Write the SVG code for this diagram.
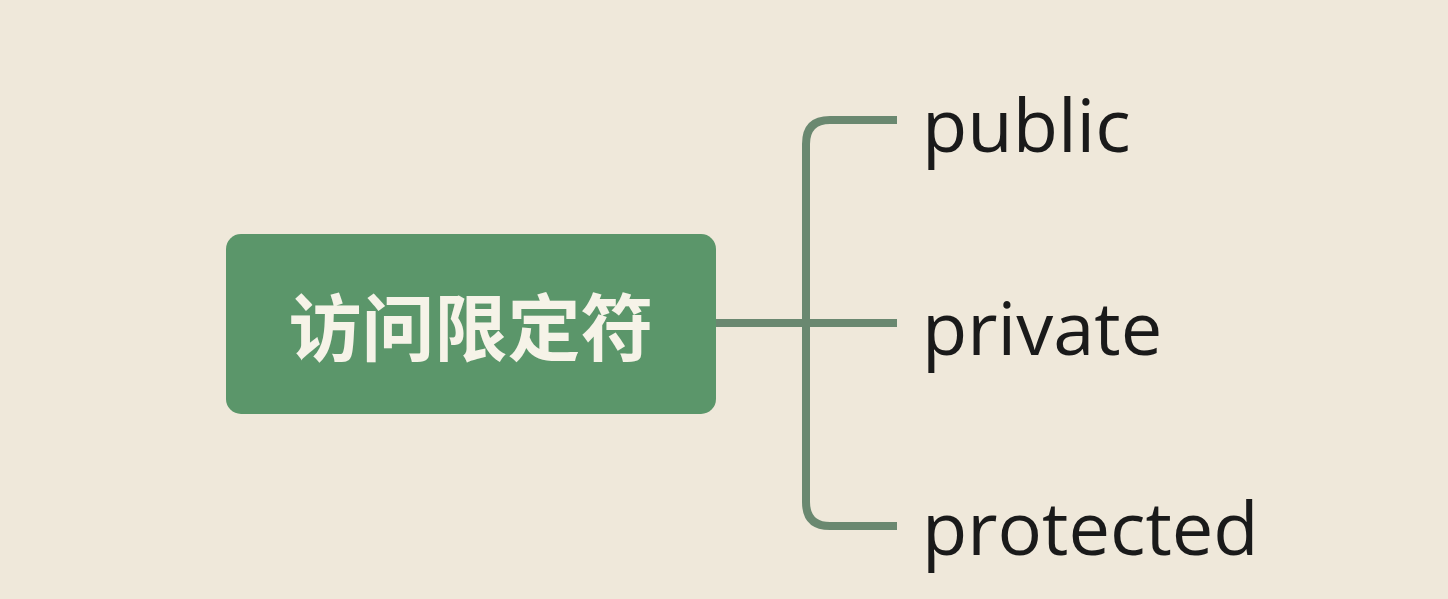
<svg xmlns="http://www.w3.org/2000/svg" width="1448" height="599" viewBox="0 0 1448 599">
<style>
.bg{fill:#efe8da}
.root{fill:#5b966a}
.rootText{font-family:"Noto Sans CJK SC","Noto Sans",sans-serif;font-weight:700;font-size:73px;fill:#f6f3e8}
.leaf{font-family:"Open Sans","Noto Sans",sans-serif;font-size:74px;fill:#1a1a1a}
.conn{fill:none;stroke:#6a8870;stroke-width:8}
</style>
<rect class="bg" x="0" y="0" width="1448" height="599"/>
<g id="connectors">
<path class="conn" d="M716 323 H897"/>
<path class="conn" d="M897 120 H830 Q806 120 806 144 V502 Q806 526 830 526 H897"/>
</g>
<g id="root">
<rect class="root" x="226" y="234" width="490" height="180" rx="15"/>
<text class="rootText" x="471" y="355" text-anchor="middle">访问限定符</text>
</g>
<g id="public"><text class="leaf" x="922" y="152">public</text></g>
<g id="private"><text class="leaf" x="922" y="355">private</text></g>
<g id="protected"><text class="leaf" x="922" y="555">protected</text></g>
</svg>
